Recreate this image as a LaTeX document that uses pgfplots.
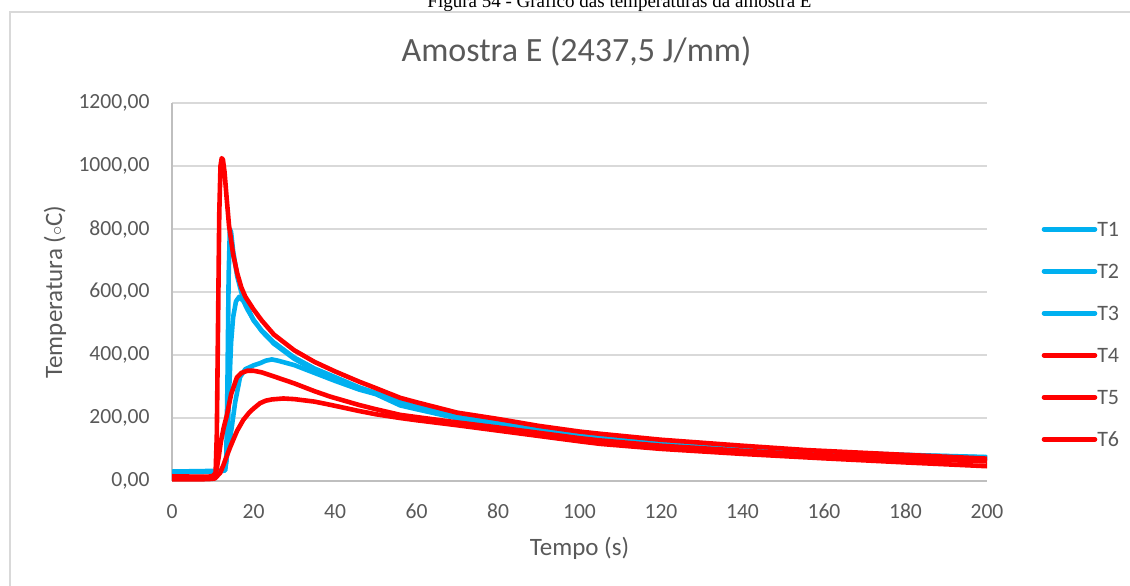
\documentclass[border=0pt]{standalone}
\usepackage{fontspec}
\setmainfont{Carlito}
\newfontfamily\serifcap{Liberation Serif}
\usepackage{pgfplots}
\pgfplotsset{compat=1.18}
\definecolor{tgray}{HTML}{595959}
\definecolor{ggray}{HTML}{D9D9D9}
\definecolor{agray}{HTML}{BFBFBF}
\definecolor{xblue}{HTML}{00B0F0}
\definecolor{xred}{HTML}{FF0000}

\begin{document}
\begin{tikzpicture}
\useasboundingbox (0,0) rectangle (565pt,-292.5pt);
\draw[ggray, line width=0.6pt] (5pt,-6pt) rectangle (620pt,-350pt);
\node[font=\serifcap\fontsize{9.5}{11}\selectfont, anchor=base, inner sep=0pt] at (309.75pt,-3.5pt) {Figura 54 - Gráfico das temperaturas da amostra E};
\begin{axis}[
  at={(86pt,-240.5pt)}, anchor=south west,
  scale only axis, width=407.5pt, height=189pt,
  xmin=0, xmax=200, ymin=0, ymax=1200,
  xtick={0,20,...,200}, ytick={0,200,...,1200},
  axis lines=left,
  axis line style={-, draw=agray, line width=0.8pt},
  major tick length=0pt,
  ymajorgrids, grid style={ggray, line width=0.8pt},
  tick label style={font=\fontsize{10.8}{12}\selectfont, text=tgray},
  /pgf/number format/assume math mode=true,
  yticklabel style={inner sep=0pt, xshift=-11pt, /pgf/number format/.cd, fixed, fixed zerofill, precision=2, use comma, 1000 sep={}},
  xticklabel style={inner sep=0pt, anchor=north, text height=7pt, text depth=0pt, yshift=-11.5pt, /pgf/number format/.cd, fixed, precision=0, 1000 sep={}},
  xlabel={Tempo (s)},
  ylabel={Temperatura ($\scriptstyle\circ$C)},
  label style={font=\fontsize{12.5}{14}\selectfont, text=tgray},
  xlabel style={at={(axis description cs:0.5,-0.177)}, anchor=center},
  ylabel style={at={(axis description cs:-0.1436,0.5)}, anchor=center},
  title={Amostra E (2437,5 J/mm)},
  title style={font=\fontsize{17}{20}\selectfont, text=tgray, at={(axis description cs:0.4963,1.106)}, anchor=center},
  legend style={at={(axis description cs:1.0671,0.389)}, anchor=west, draw=none, fill=none,
     inner sep=0pt, outer sep=0pt, row sep=13.5pt,
     nodes={inner sep=0pt, outer sep=0pt, text height=7.5pt, text depth=0pt, anchor=base, font=\fontsize{11}{12}\selectfont, text=tgray}},
  legend cell align=left,
  legend image code/.code={\path[draw=none,fill=none] (0pt,0pt) rectangle (25.5pt,7.5pt); \draw[#1] (0pt,3.6pt) -- (25.5pt,3.6pt);},
  /tikz/every even column/.append style={column sep=2pt},
  every axis plot/.append style={line width=2.3pt, line join=round, line cap=round},
]
% T1
\addplot[xblue] coordinates {
(0,30)(5,31)(10,32)(13.0,34)(13.3,60)(13.6,300)(13.9,650)(14.2,800)(14.5,790)(15,730)(16,650)(17,600)(18,565)(20,510)(22,478)(25,440)(30,392)(35,357)(40,330)(46,297)(50,280)(56,250)(60,236)(70,207)(80,186)(90,165)(100,147)(105,139)(120,121)(140,105)(160,92)(180,83)(200,76)};
% T2
\addplot[xblue] coordinates {
(0,28)(5,29)(10,30)(13.0,33)(13.5,80)(14.0,280)(14.5,440)(15.0,520)(15.7,570)(16.5,585)(17.5,572)(18.5,545)(20,512)(21,495)(22,476)(25,436)(30,388)(35,352)(40,325)(46,293)(50,277)(56,245)(60,233)(70,203)(80,183)(90,162)(100,144)(120,119)(140,103)(160,91)(180,82)(200,75)};
% T3
\addplot[xblue] coordinates {
(0,28)(5,29)(10,30)(12.5,33)(13.0,50)(13.5,85)(14.0,120)(14.6,165)(15.5,250)(16.7,330)(18,355)(20,367)(21.6,374)(23,382)(24.5,386)(26,382)(30,368)(35,343)(40,318)(46,290)(50,276)(56,240)(60,228)(70,199)(80,180)(90,160)(100,142)(120,118)(140,102)(160,90)(180,80)(200,73)};
% T4
\addplot[xred] coordinates {
(0,15)(5,14)(9,14)(10,16)(10.7,25)(11.0,150)(11.3,500)(11.6,850)(11.9,1000)(12.2,1025)(12.5,1020)(12.9,980)(13.4,900)(14,810)(15,720)(16,660)(17,615)(18,585)(20,545)(22,510)(25,465)(30,415)(35,378)(40,348)(46,315)(50,295)(56,264)(60,250)(70,217)(80,197)(90,175)(100,157)(105,150)(120,131)(140,112)(156,98)(180,83)(200,71)};
% T5
\addplot[xred] coordinates {
(0,12)(5,12)(9,12)(10.5,15)(11.0,40)(11.5,80)(12.0,125)(12.7,170)(13.4,205)(14.5,275)(15.9,328)(17.0,343)(18.5,350)(20,350)(22,345)(25,332)(30,310)(35,285)(38.8,268)(46,241)(50,228)(56,210)(60,203)(70,186)(80,170)(90,153)(100,136)(105,129)(120,112)(140,96)(160,82)(180,71)(200,62)};
% T6
\addplot[xred] coordinates {
(0,5)(5,5)(9,6)(10.5,8)(11.8,25)(12.6,50)(13.4,78)(14.2,105)(15,130)(16,160)(17.5,194)(19,218)(20,230)(21.6,247)(23,255)(24.5,259)(27.3,262)(30,260)(35,252)(38.8,242)(46,222)(50,212)(56,200)(60,193)(70,177)(80,160)(90,143)(100,126)(105,118)(120,102)(140,86)(160,72)(180,59)(200,47)};
\legend{T1,T2,T3,T4,T5,T6}
\end{axis}
\end{tikzpicture}
\end{document}
